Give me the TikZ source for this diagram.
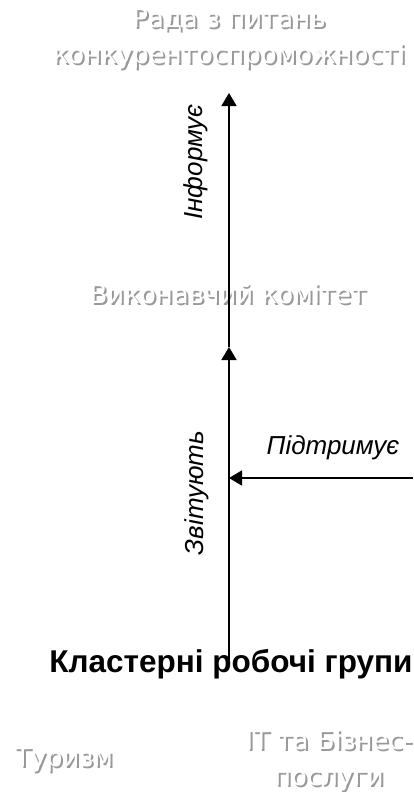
\documentclass[tikz,border=0pt]{standalone}
\usepackage{fontspec}
\setmainfont{Liberation Sans}
\newfontfamily\embfont{DejaVu Sans}
\usetikzlibrary{arrows.meta}

\tikzset{
  lbl/.style={font=\itshape\fontsize{26}{30}\selectfont},
  emb/.style={font=\embfont\fontsize{26}{36}\selectfont, text=white, align=center, inner sep=0pt},
  embsh/.style={emb, text=black!40},
  link/.style={line width=1.8pt, -{Triangle[length=13pt,width=15pt]}},
}

% white lettering with a grey shadow
\newcommand\embnode[3]{%
  \node[embsh, xshift=2pt, yshift=-2pt] at (#2) {#3};
  \node[emb] (#1) at (#2) {#3};
}

\begin{document}
\begin{tikzpicture}[x=1pt,y=-1pt]
      \useasboundingbox (0,0) rectangle (413,792);
      \pgfmathsetmacro{\mx}{229}

      \embnode{rada}{229,39}{Рада з питань\\конкурентоспроможності}
      \embnode{vk}{228,294}{Виконавчий комітет}
      \embnode{tur}{64,760}{Туризм}
      \embnode{it}{329,760}{ІТ та Бізнес-\\послуги}

      \node[font=\bfseries\fontsize{31.5}{36}\selectfont] (kl) at (231,664) {Кластерні робочі групи};

      \coordinate (radabot) at (\mx,93);
      \coordinate (vkbot) at (\mx,347);
      \coordinate (kltop) at (\mx,660);
      \coordinate (sup) at (413,478);
      \coordinate (supin) at (\mx,478);

      \draw[link] (kltop) -- (vkbot);
      \draw[link] (vkbot) -- (radabot);
      \draw[link] (sup) -- (supin);

      \node[lbl, rotate=90] (inf) at (196,162) {Інформує};
      \node[lbl, rotate=90] (zvit) at (197,493) {Звітують};
      \node[lbl] (pidt) at (333,448) {Підтримує};
    \end{tikzpicture}
\end{document}
